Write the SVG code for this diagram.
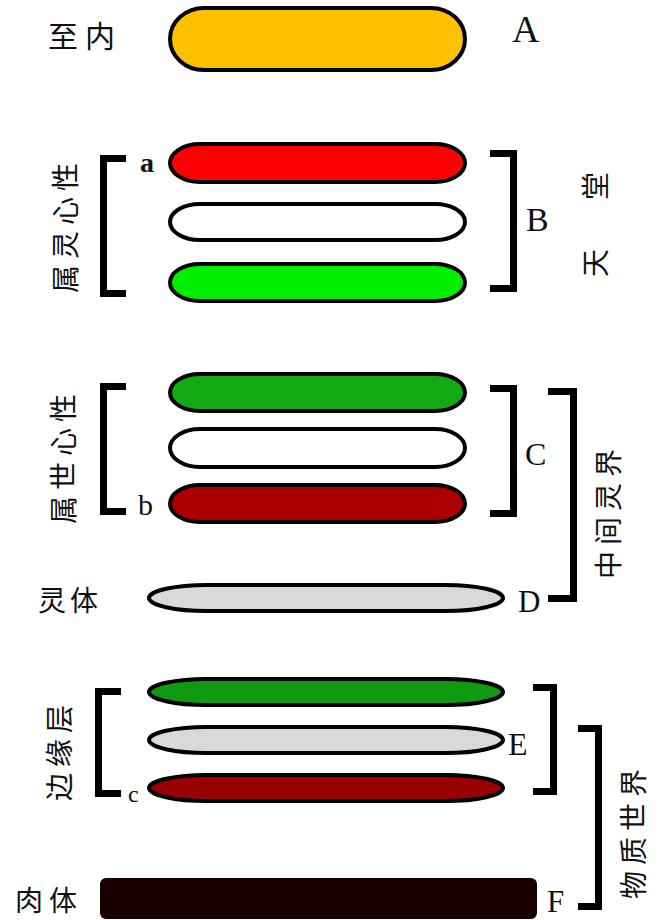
<svg xmlns="http://www.w3.org/2000/svg" width="662" height="920" viewBox="0 0 662 920">
<style>
.pill{stroke:#000;stroke-width:4}
.thin{stroke:#000;stroke-width:4}
.br{fill:none;stroke:#000;stroke-width:7;stroke-linejoin:miter}
.cjk{font-family:"Noto Sans CJK SC","Noto Sans CJK TC",sans-serif;font-size:28px;fill:#111}
.v{text-anchor:middle;dominant-baseline:central;letter-spacing:6px}
.lt{font-family:"Liberation Serif",serif;fill:#111}
</style>
<rect width="662" height="920" fill="#fff"/>
<g id="nodeA">
  <rect class="pill" x="170" y="8" width="295" height="62" rx="34" ry="31" fill="#FFC000"/>
  <text class="cjk" x="48" y="47" style="font-size:30px;letter-spacing:7px">至内</text>
  <text class="lt" x="512" y="42" font-size="38">A</text>
</g>
<g id="nodeB">
  <rect class="pill" x="170" y="144" width="295" height="38" rx="30" ry="19" fill="#FF0000"/>
  <rect class="pill" x="170" y="204" width="295" height="36" rx="30" ry="18" fill="#FFFFFF"/>
  <rect class="pill" x="170" y="264" width="295" height="37" rx="30" ry="18.5" fill="#00EE00"/>
  <text class="cjk v" transform="translate(64,225) rotate(-90)">属灵心性</text>
  <text class="lt" x="140" y="172" font-size="28" font-weight="bold">a</text>
  <text class="lt" x="526" y="231" font-size="34">B</text>
  <text class="cjk" transform="translate(594,224) rotate(-90)" text-anchor="middle" dominant-baseline="central"><tspan x="-39">天</tspan><tspan x="38">堂</tspan></text>
</g>
<g id="nodeC">
  <rect class="pill" x="170" y="374" width="295" height="37" rx="30" ry="18.5" fill="#14A814"/>
  <rect class="pill" x="170" y="429" width="295" height="38" rx="30" ry="19" fill="#FFFFFF"/>
  <rect class="pill" x="170" y="485" width="295" height="37" rx="30" ry="18.5" fill="#AA0000"/>
  <text class="cjk v" transform="translate(62,456) rotate(-90)">属世心性</text>
  <text class="lt" x="138" y="515" font-size="30">b</text>
  <text class="lt" x="525" y="465" font-size="32">C</text>
  <text class="cjk v" transform="translate(607,511) rotate(-90)">中间灵界</text>
</g>
<g id="nodeD">
  <rect class="thin" x="149" y="585" width="354" height="26" rx="58" ry="13" fill="#D9D9D9"/>
  <text class="cjk" x="38" y="611" style="letter-spacing:4px">灵体</text>
  <text class="lt" x="518" y="612" font-size="31">D</text>
</g>
<g id="nodeE">
  <rect class="thin" x="149" y="679" width="354" height="26" rx="58" ry="13" fill="#109A10"/>
  <rect class="thin" x="149" y="727" width="354" height="26" rx="58" ry="13" fill="#D9D9D9"/>
  <rect class="thin" x="149" y="775" width="354" height="26" rx="58" ry="13" fill="#990000"/>
  <text class="cjk v" transform="translate(58,750) rotate(-90)">边缘层</text>
  <text class="lt" x="128" y="802" font-size="24">c</text>
  <text class="lt" x="508" y="755" font-size="32">E</text>
  <text class="cjk v" transform="translate(632,831) rotate(-90)">物质世界</text>
</g>
<g id="nodeF">
  <rect x="100" y="878" width="437" height="41" rx="6" fill="#180000"/>
  <text class="cjk" x="15" y="911" style="letter-spacing:6px">肉体</text>
  <text class="lt" x="547" y="912" font-size="31">F</text>
</g>
<g id="connectors">
  <path class="br" d="M126,158.5 H103.5 V293.5 H126"/>
  <path class="br" d="M490,153.5 H513.5 V288.5 H490"/>
  <path class="br" d="M126,386.5 H103.5 V511.5 H126"/>
  <path class="br" d="M490,388.5 H513.5 V513.5 H490"/>
  <path class="br" d="M548,391.5 H573.5 V598.5 H548"/>
  <path class="br" d="M121,691.5 H98.5 V793.5 H121"/>
  <path class="br" d="M533,687.5 H553.5 V791.5 H533"/>
  <path class="br" d="M578,728.5 H598.5 V906.5 H578"/>
</g>
</svg>
